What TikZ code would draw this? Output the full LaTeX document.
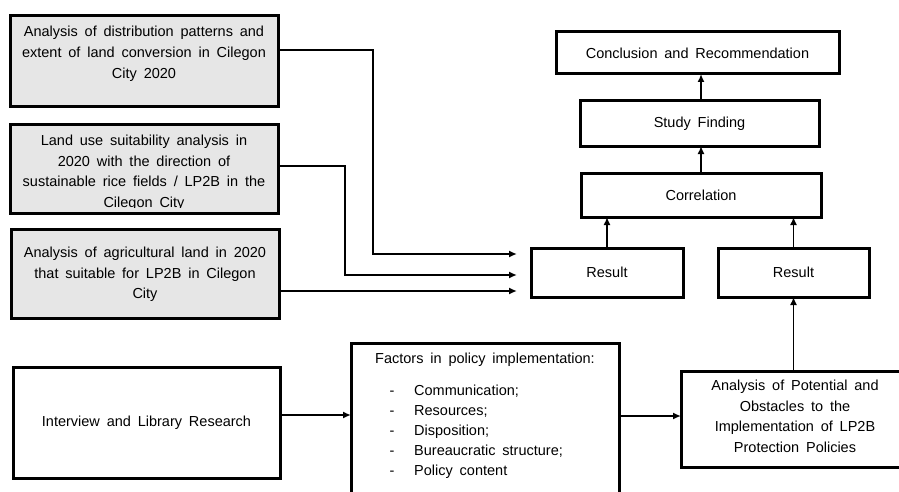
\documentclass[tikz,border=0pt]{standalone}
\usepackage{fontspec}
\setmainfont[WordSpace=1.7]{Liberation Sans}
\usetikzlibrary{arrows.meta}
\definecolor{boxgray}{HTML}{E6E6E6}
\begin{document}
\begin{tikzpicture}[x=1pt,y=-1pt,
  box/.style={draw, line width=3pt, inner sep=0pt, outer sep=0pt, anchor=north west, font=\fontsize{14.5}{20.5}\selectfont},
  gbox/.style={box, fill=boxgray},
  txt/.style={inner sep=0pt, align=center, font=\fontsize{14.5}{20.5}\selectfont},
  conn/.style={line width=1.8pt},
  arr/.style={conn, -{Latex[length=8pt,width=7pt]}}]
\useasboundingbox (0,0) rectangle (899,492);
\clip (0,0) rectangle (899,492);
\fill[white] (0,0) rectangle (899,492);

% left grey boxes
\node[gbox, minimum width=268pt, minimum height=91pt] (b1) at (10,16) {};
\node[txt, anchor=north, font=\fontsize{14.5}{21}\selectfont] (t1) at (144,26)
  {Analysis of distribution patterns and\\extent of land conversion in Cilegon\\City 2020};

\node[gbox, minimum width=268pt, minimum height=88pt] (b2) at (10,125) {};
\begin{scope}
  \clip (10,125) rectangle (278,207.5);
  \node[txt, anchor=north] (t2) at (144,135)
    {Land use suitability analysis in\\2020 with the direction of\\sustainable rice fields / LP2B in the\\Cilegon City};
\end{scope}
\draw[line width=3pt] (b2.north west) rectangle (b2.south east);

\node[gbox, minimum width=268pt, minimum height=89pt] (b3) at (11,229) {};
\node[txt, anchor=north] (t3) at (145,247)
  {Analysis of agricultural land in 2020\\that suitable for LP2B in Cilegon\\City};

% right column
\node[box, minimum width=283pt, minimum height=42pt] (concl) at (556,32) {Conclusion and Recommendation};
\node[box, minimum width=239pt, minimum height=45pt] (study) at (580,101) {Study Finding};
\node[box, minimum width=240pt, minimum height=44pt] (corr) at (581,173) {Correlation};
\node[box, minimum width=152pt, minimum height=49pt] (resL) at (531,248) {Result};
\node[box, minimum width=151pt, minimum height=49pt] (resR) at (718,248) {Result};

% bottom row
\node[box, minimum width=267pt, minimum height=111pt] (intv) at (13,367) {Interview and Library Research};
\node[box, minimum width=268pt, minimum height=177pt] (fact) at (351,343) {};
\node[txt, anchor=base west] (fh) at (375,363) {Factors in policy implementation:};
\foreach \t [count=\i] in {Communication;, Resources;, Disposition;, Bureaucratic structure;, Policy content}{
  \node[txt, anchor=base] (fd\i) at (392,{375+20*\i}) {-};
  \node[txt, anchor=base west] (fi\i) at (414,{375+20*\i}) {\t};
}
\node[box, minimum width=228pt, minimum height=96pt] (ana) at (681,371) {};
\node[txt, anchor=north] (t4) at (795,380)
  {Analysis of Potential and\\Obstacles to the\\Implementation of LP2B\\Protection Policies};

% connectors
\coordinate (j1) at (373,50);
\coordinate (e1) at (517,254);
\coordinate (j2) at (345,166);
\coordinate (e2) at (517,275);
\coordinate (e3) at (517,291);
\coordinate (y415) at (0,415);
\coordinate (y416) at (0,416);

\draw[arr] (b1.east |- j1) -- (j1) |- (e1);
\draw[arr] (b2.east |- j2) -- (j2) |- (e2);
\draw[arr] (b3.east |- e3) -- (e3);

\draw[arr] (intv.east |- y415) -- (fact.west |- y415);
\draw[arr] (fact.east |- y416) -- (ana.west |- y416);
\draw[arr] (resR.south |- ana.north) -- (resR.south);
\draw[arr] (resL.north) -- (resL.north |- corr.south);
\draw[arr] (resR.north) -- (resR.north |- corr.south);
\draw[arr] (corr.north) -- (corr.north |- study.south);
\draw[arr] (corr.north |- study.north) -- (corr.north |- concl.south);
\end{tikzpicture}
\end{document}
